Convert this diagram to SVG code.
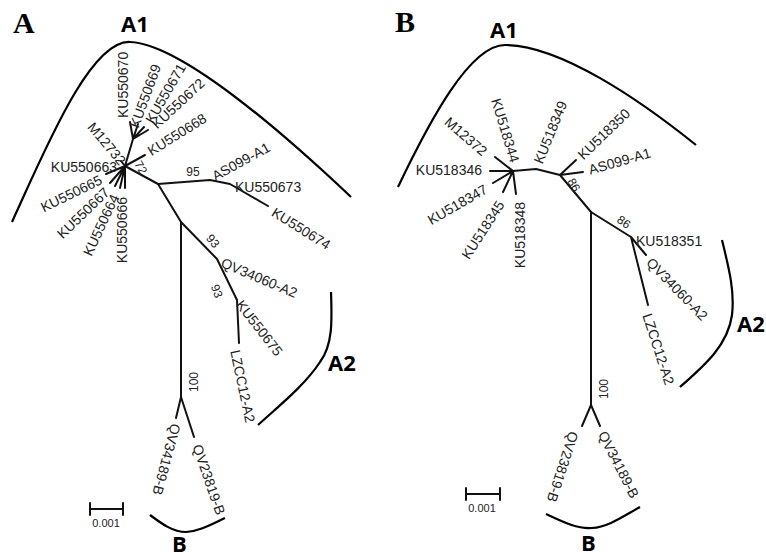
<svg xmlns="http://www.w3.org/2000/svg" width="766" height="557" viewBox="0 0 766 557">
<style>
.br{fill:none;stroke:#111;stroke-width:2;stroke-linecap:round;stroke-linejoin:round}
.arc{fill:none;stroke:#000;stroke-width:2.2}
.lb{font-family:"Liberation Sans",Arial,sans-serif;font-size:14px;fill:#222}
.bs{font-family:"Liberation Sans",Arial,sans-serif;font-size:12px;fill:#222}
.cl{font-family:"Open Sans","Liberation Sans",sans-serif;font-weight:bold;font-size:22px;fill:#000}
.pn{font-family:"Liberation Serif","Times New Roman",serif;font-weight:bold;font-size:30px;fill:#000}
.sc{font-family:"Liberation Sans",Arial,sans-serif;font-size:11px;fill:#222}
</style>
<rect width="766" height="557" fill="#fff"/>

<!-- ===== Panel A ===== -->
<g id="panelA-title"><text class="pn" x="13" y="33">A</text></g>
<g id="cladeA-A1"><path class="arc" d="M12,222 C45,150 90,40 130,42 C180,44 280,130 351,197"/><text class="cl" x="121" y="32">A1</text></g>
<g id="cladeA-A2"><path class="arc" d="M331,292 C332,320 333,345 320,362 C305,385 280,405 258,425"/><text class="cl" x="328" y="371">A2</text></g>
<g id="cladeA-B"><path class="arc" d="M150,515 C162,524 173,532 186,532 C200,531 212,524 225,518"/><text class="cl" x="172" y="552">B</text></g>
<g id="scaleA"><path class="br" d="M90,509 H123 M90,503 V515 M123,503 V515" stroke-width="1.8"/><text class="sc" x="106" y="527" text-anchor="middle">0.001</text></g>

<g id="connectorsA">
<path class="br" d="M125,166 L106,174 M125,166 L110,183 M125,166 L115,186 M125,166 L120,188 M125,166 L125,188 M125,166 L121,161"/>
<path class="br" d="M125,166 L133,139 L130,122 M133,139 L138,124 M133,139 L144,127 M133,139 L148,130 M125,166 L145,155"/>
<path class="br" d="M125,166 L158,184 L210,180 L230,184 L268,206"/>
<path class="br" d="M158,184 L181,222 L181,397 L176,418 M181,397 L194,437"/>
<path class="br" d="M181,222 L217,259 L237,300 L239,343"/>
</g>

<g id="A-KU550663"><text class="lb" text-anchor="end" dy="0.35em" transform="translate(117,167.5)">KU550663</text></g>
<g id="A-KU550665"><text class="lb" text-anchor="end" dy="0.35em" transform="translate(101,179) rotate(-26)">KU550665</text></g>
<g id="A-KU550667"><text class="lb" text-anchor="end" dy="0.35em" transform="translate(107,190) rotate(-44)">KU550667</text></g>
<g id="A-KU550664"><text class="lb" text-anchor="end" dy="0.35em" transform="translate(115,195) rotate(-65)">KU550664</text></g>
<g id="A-KU550666"><text class="lb" text-anchor="end" dy="0.35em" transform="translate(122.5,197) rotate(-90)">KU550666</text></g>
<g id="A-M12732"><text class="lb" text-anchor="end" dy="0.35em" transform="translate(123,163) rotate(50)">M12732</text></g>
<g id="A-KU550670"><text class="lb" dy="0.35em" transform="translate(123,118) rotate(-90)">KU550670</text></g>
<g id="A-KU550669"><text class="lb" dy="0.35em" transform="translate(134,127) rotate(-70)">KU550669</text></g>
<g id="A-KU550671"><text class="lb" dy="0.35em" transform="translate(149,122) rotate(-60)">KU550671</text></g>
<g id="A-KU550672"><text class="lb" dy="0.35em" transform="translate(154,126) rotate(-43)">KU550672</text></g>
<g id="A-KU550668"><text class="lb" dy="0.35em" transform="translate(149,152) rotate(-32)">KU550668</text></g>
<g id="A-AS099-A1"><text class="lb" dy="0.35em" transform="translate(213,177) rotate(-29)">AS099-A1</text></g>
<g id="A-KU550673"><text class="lb" dy="0.35em" transform="translate(235,187.5)">KU550673</text></g>
<g id="A-KU550674"><text class="lb" dy="0.35em" transform="translate(273,211) rotate(32)">KU550674</text></g>
<g id="A-QV34060-A2"><text class="lb" dy="0.35em" transform="translate(222,262) rotate(23)">QV34060-A2</text></g>
<g id="A-KU550675"><text class="lb" dy="0.35em" transform="translate(239,302) rotate(52)">KU550675</text></g>
<g id="A-LZCC12-A2"><text class="lb" dy="0.35em" transform="translate(235,350) rotate(78)">LZCC12-A2</text></g>
<g id="A-QV34189-B"><text class="lb" dy="0.35em" transform="translate(176,424) rotate(105)">QV34189-B</text></g>
<g id="A-QV23819-B"><text class="lb" dy="0.35em" transform="translate(197,445) rotate(71)">QV23819-B</text></g>
<g id="A-support">
<text class="bs" text-anchor="middle" dy="0.35em" transform="translate(141,167.5) rotate(60)">72</text>
<text class="bs" text-anchor="middle" dy="0.35em" transform="translate(193,172)">95</text>
<text class="bs" text-anchor="middle" dy="0.35em" transform="translate(213,241) rotate(50)">93</text>
<text class="bs" text-anchor="middle" dy="0.35em" transform="translate(217,291) rotate(70)">93</text>
<text class="bs" text-anchor="middle" dy="0.35em" transform="translate(194,382) rotate(-90)">100</text>
</g>

<!-- ===== Panel B ===== -->
<g id="panelB-title"><text class="pn" x="395" y="32">B</text></g>
<g id="cladeB-A1"><path class="arc" d="M398,187 C430,120 470,45 505,45 C560,45 640,100 696,145"/><text class="cl" x="490" y="38">A1</text></g>
<g id="cladeB-A2"><path class="arc" d="M722,240 C728,265 735,290 732,315 C728,345 705,365 680,387"/><text class="cl" x="737" y="332">A2</text></g>
<g id="cladeB-B"><path class="arc" d="M546,514 C565,523 578,529 592,528 C608,527 622,517 640,507"/><text class="cl" x="581" y="551">B</text></g>
<g id="scaleB"><path class="br" d="M466,494 H500 M466,488 V500 M500,488 V500" stroke-width="1.8"/><text class="sc" x="482" y="512" text-anchor="middle">0.001</text></g>

<g id="connectorsB">
<path class="br" d="M513,171 L490,171 M513,171 L495,157 M513,171 L493,183 M513,171 L503,192 M513,171 L516,194"/>
<path class="br" d="M513,171 L536,169 L560,175 L576,160 M560,175 L583,172"/>
<path class="br" d="M560,175 L591,212 L591,405 L582,426 M591,405 L600,426"/>
<path class="br" d="M591,212 L631,237 L646,255 M631,237 L648,305"/>
</g>

<g id="B-KU518346"><text class="lb" text-anchor="end" dy="0.35em" transform="translate(482,170)">KU518346</text></g>
<g id="B-M12372"><text class="lb" text-anchor="end" dy="0.35em" transform="translate(485,153) rotate(41)">M12372</text></g>
<g id="B-KU518344"><text class="lb" text-anchor="end" dy="0.35em" transform="translate(515,162) rotate(73)">KU518344</text></g>
<g id="B-KU518347"><text class="lb" text-anchor="end" dy="0.35em" transform="translate(486,188) rotate(-30)">KU518347</text></g>
<g id="B-KU518345"><text class="lb" text-anchor="end" dy="0.35em" transform="translate(501,202) rotate(-57)">KU518345</text></g>
<g id="B-KU518348"><text class="lb" text-anchor="end" dy="0.35em" transform="translate(520,202) rotate(-90)">KU518348</text></g>
<g id="B-KU518349"><text class="lb" dy="0.35em" transform="translate(538,163) rotate(-68)">KU518349</text></g>
<g id="B-KU518350"><text class="lb" dy="0.35em" transform="translate(580,157) rotate(-44)">KU518350</text></g>
<g id="B-AS099-A1"><text class="lb" dy="0.35em" transform="translate(589,170) rotate(-16)">AS099-A1</text></g>
<g id="B-KU518351"><text class="lb" dy="0.35em" transform="translate(636,241)">KU518351</text></g>
<g id="B-QV34060-A2"><text class="lb" dy="0.35em" transform="translate(649,260) rotate(46)">QV34060-A2</text></g>
<g id="B-LZCC12-A2"><text class="lb" dy="0.35em" transform="translate(647,314) rotate(72)">LZCC12-A2</text></g>
<g id="B-QV23819-B"><text class="lb" dy="0.35em" transform="translate(574,432) rotate(108)">QV23819-B</text></g>
<g id="B-QV34189-B"><text class="lb" dy="0.35em" transform="translate(602,432) rotate(63)">QV34189-B</text></g>
<g id="B-support">
<text class="bs" text-anchor="middle" dy="0.35em" transform="translate(574,185) rotate(60)">86</text>
<text class="bs" text-anchor="middle" dy="0.35em" transform="translate(624,222) rotate(35)">86</text>
<text class="bs" text-anchor="middle" dy="0.35em" transform="translate(604,389) rotate(-90)">100</text>
</g>
</svg>
